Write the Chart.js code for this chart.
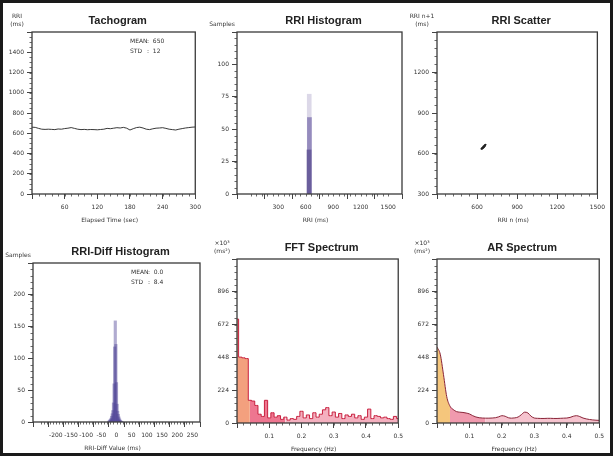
<!DOCTYPE html>
<html>
<head>
<meta charset="utf-8">
<script src="https://cdn.jsdelivr.net/npm/chart.js@4.4.0/dist/chart.umd.min.js"></script>
<style>
  body { margin:0; background:#fff; width:614px; height:457px; overflow:hidden; position:relative; }
  canvas { position:absolute; }
  #frame { position:absolute; left:0; top:0; width:613px; height:456px; box-sizing:border-box; border:3px solid #1a1a1a; pointer-events:none; }
</style>
</head>
<body>
<div id="frame"></div>
<script>
// tachogram (sec / ms)
const tachoTime = [0, 6, 12, 18, 24, 30, 36, 42, 48, 54, 60, 66, 72, 78, 84, 90, 96, 102, 108, 114, 120, 126, 132, 138, 144, 150, 156, 162, 168, 174, 180, 186, 192, 198, 204, 210, 216, 222, 228, 234, 240, 246, 252, 258, 264, 270, 276, 282, 288, 294, 300];
const tachoRRI = [660, 658, 648, 640, 638, 640, 638, 636, 642, 640, 646, 650, 656, 648, 640, 636, 638, 635, 637, 636, 634, 637, 640, 648, 645, 650, 655, 652, 658, 650, 632, 645, 656, 660, 652, 640, 636, 644, 650, 652, 655, 648, 640, 636, 632, 640, 646, 652, 656, 660, 662];
const tachoStats = [['MEAN', '650'], ['STD', '12']];

// RRI histogram
const rriBins = [638, 640, 636];
const rriCounts = [77, 59, 34];

// RRI scatter
const scatterRRn = [632, 636, 640, 644, 648, 652, 656, 660, 664, 638, 646, 650, 654, 642, 658];
const scatterRRn1 = [636, 634, 644, 640, 652, 648, 660, 656, 666, 642, 650, 646, 658, 638, 662];

// RRI-Diff histogram
const diffBins = [-26, -24, -22, -20, -18, -16, -14, -12, -10, -8, -6, -4, -2, 0, 2, 4, 6, 8, 10, 12, 14, 16, 18];
const diffCounts = [1, 2, 3, 4, 6, 9, 13, 18, 30, 60, 118, 159, 122, 62, 28, 17, 12, 8, 5, 3, 2, 1, 1];
const diffStats = [['MEAN', '0.0'], ['STD', '8.4']];

// spectra (Hz / x10^3 ms^2)
const specFreq = [0.00, 0.01, 0.02, 0.03, 0.04, 0.05, 0.06, 0.07, 0.08, 0.09, 0.10, 0.11, 0.12, 0.13, 0.14, 0.15, 0.16, 0.17, 0.18, 0.19, 0.20, 0.21, 0.22, 0.23, 0.24, 0.25, 0.26, 0.27, 0.28, 0.29, 0.30, 0.31, 0.32, 0.33, 0.34, 0.35, 0.36, 0.37, 0.38, 0.39, 0.40, 0.41, 0.42, 0.43, 0.44, 0.45, 0.46, 0.47, 0.48, 0.49, 0.50];
const fftPower = [710, 450, 445, 440, 155, 150, 120, 60, 45, 155, 35, 70, 40, 50, 25, 40, 20, 30, 25, 45, 80, 35, 55, 30, 70, 40, 60, 90, 105, 50, 75, 40, 65, 30, 55, 45, 60, 35, 50, 25, 40, 95, 30, 50, 45, 35, 40, 30, 25, 45, 30];
const arPower = [519, 470, 330, 180, 115, 92, 78, 74, 72, 68, 62, 50, 41, 36, 34, 33, 33, 34, 36, 42, 50, 46, 36, 33, 35, 41, 57, 74, 69, 46, 34, 32, 31, 31, 32, 32, 31, 31, 32, 33, 34, 38, 46, 50, 44, 34, 28, 24, 21, 19, 18];
const bandEdges = [0, 0.04, 0.15, 0.5];
const arBandColors = ['#f5c67c', '#f09aae', '#f6c4cf'];
const fftBandColors = ['#f3a07e', '#ee7690', '#f4b0bf'];

const FONT = 'DejaVu Sans';
const INK = '#333';

// draws frame, minor ticks and all panel texts
const panelDeco = {
  id: 'panelDeco',
  afterDraw(chart, args, o) {
    const { ctx, chartArea: a, scales: { x, y } } = chart;
    ctx.save();
    ctx.strokeStyle = '#3a3a3a';
    ctx.lineWidth = 1.3;
    ctx.strokeRect(a.left, a.top, a.right - a.left, a.bottom - a.top);

    ctx.lineWidth = 0.8;
    ctx.strokeStyle = '#444';
    ctx.beginPath();
    for (let v = x.min; v <= x.max + 1e-9; v += o.xMinor) {
      const px = Math.round(x.getPixelForValue(v)) + 0.5;
      ctx.moveTo(px, a.bottom); ctx.lineTo(px, a.bottom + 2.5);
    }
    for (let v = y.min; v <= y.max + 1e-9; v += o.yMinor) {
      const py = Math.round(y.getPixelForValue(v)) + 0.5;
      ctx.moveTo(a.left, py); ctx.lineTo(a.left - 2.5, py);
    }
    ctx.stroke();

    ctx.fillStyle = '#222';
    ctx.textAlign = 'center';
    ctx.textBaseline = 'middle';
    ctx.font = 'bold 11px "Liberation Sans"';
    ctx.fillText(o.title, (a.left + a.right) / 2 + 4, a.top - 11);

    ctx.font = '6px ' + FONT;
    ctx.fillStyle = INK;
    ctx.fillText(o.xTitle, (a.left + a.right) / 2 - 4, a.bottom + 26);
    const yl = o.yTitle;
    yl.forEach((s, i) => ctx.fillText(s, a.left - 15, a.top - 8 - (yl.length - 1 - i) * 8));

    if (o.stats) {
      ctx.textAlign = 'left';
      o.stats.forEach((s, i) => {
        const ty = a.top + 9 + i * 10;
        ctx.fillText(s[0], a.left + 98, ty);
        ctx.fillText(':  ' + s[1], a.left + 115, ty);
      });
    }
    ctx.restore();
  }
};

function axis(min, max, step, hideMin, hideMax, isX, fmt) {
  return {
    type: 'linear', min, max,
    afterFit(s) { if (isX) s.height = 34; else s.width = 36; },
    ticks: {
      stepSize: step, autoSkip: false, maxRotation: 0, color: INK,
      padding: isX ? 5 : 3,
      font: { size: 6, family: FONT },
      callback(v, i, t) {
        if ((hideMin && i === 0) || (hideMax && i === t.length - 1)) return '';
        return fmt ? fmt(v) : v;
      }
    },
    grid: { display: true, drawOnChartArea: false, drawTicks: true, tickLength: 5, color: '#444', lineWidth: 1 },
    border: { display: false }
  };
}

function makePanel(box, type, datasets, scaleX, scaleY, deco) {
  const cv = document.createElement('canvas');
  const w = (box.r - box.l) + 36 + 6;
  const h = (box.b - box.t) + 32 + 34;
  cv.width = w; cv.height = h;
  cv.style.left = (box.l - 36) + 'px';
  cv.style.top = (box.t - 32) + 'px';
  cv.style.width = w + 'px';
  cv.style.height = h + 'px';
  document.body.appendChild(cv);
  return new Chart(cv, {
    type,
    data: { datasets },
    options: {
      responsive: false, animation: false, devicePixelRatio: 1,
      layout: { padding: { left: 0, top: 32, right: 6, bottom: 0 } },
      scales: { x: scaleX, y: scaleY },
      plugins: { legend: { display: false }, tooltip: { enabled: false }, panelDeco: deco }
    },
    plugins: [panelDeco]
  });
}

const pts = (xs, ys) => xs.map((v, i) => ({ x: v, y: ys[i] }));
const bandSets = (ys, colors, extra) => colors.map((c, k) => Object.assign({
  type: 'line',
  data: pts(specFreq, ys).filter(p => p.x >= bandEdges[k] - 1e-9 && p.x <= bandEdges[k + 1] + 1e-9),
  backgroundColor: c, borderWidth: 0, pointRadius: 0, fill: 'origin', order: 2
}, extra));

// 1 Tachogram
makePanel({ l: 32, t: 32, r: 200, b: 194 }, 'line',
  [{ data: pts(tachoTime, tachoRRI), borderColor: '#222', borderWidth: 0.9, pointRadius: 0, tension: 0 }],
  axis(0, 300, 60, true, false, true),
  axis(0, 1600, 200, false, true, false),
  { title: 'Tachogram', xTitle: 'Elapsed Time (sec)', yTitle: ['RRI', '(ms)'], stats: tachoStats, xMinor: 12, yMinor: 50 });

// 2 RRI Histogram
makePanel({ l: 237, t: 32, r: 402, b: 194 }, 'bar',
  [{ data: pts(rriBins, rriCounts), backgroundColor: ['#dcd8e8', '#958bbd', '#6a5e9c'], borderWidth: 0, barThickness: 4 }],
  axis(0, 1500, 300, true, false, true),
  axis(0, 125, 25, false, true, false),
  { title: 'RRI Histogram', xTitle: 'RRI (ms)', yTitle: ['Samples'], xMinor: 60, yMinor: 5 });

// 3 RRI Scatter
makePanel({ l: 437, t: 32, r: 604, b: 194 }, 'scatter',
  [{ data: pts(scatterRRn, scatterRRn1), backgroundColor: '#222', borderWidth: 0, pointRadius: 0.9 }],
  axis(300, 1500, 300, true, false, true),
  axis(300, 1500, 300, false, true, false),
  { title: 'RRI Scatter', xTitle: 'RRI n (ms)', yTitle: ['RRI n+1', '(ms)'], xMinor: 60, yMinor: 60 });

// 4 RRI-Diff Histogram
makePanel({ l: 33, t: 263, r: 200, b: 422 }, 'bar',
  [{ data: pts(diffBins, diffCounts), backgroundColor: 'rgba(80,68,150,0.45)', borderWidth: 0, barThickness: 2.5 }],
  axis(-250, 250, 50, true, false, true),
  axis(0, 250, 50, false, true, false),
  { title: 'RRI-Diff Histogram', xTitle: 'RRI-Diff Value (ms)', yTitle: ['Samples'], stats: diffStats, xMinor: 10, yMinor: 10 });

// 5 FFT Spectrum
makePanel({ l: 237, t: 259, r: 402, b: 423 }, 'line',
  [{ data: pts(specFreq, fftPower), borderColor: '#c8203f', borderWidth: 1, pointRadius: 0, stepped: 'middle', fill: false, order: 1 }]
    .concat(bandSets(fftPower, fftBandColors, { stepped: 'middle' })),
  axis(0, 0.5, 0.1, true, false, true, v => v.toFixed(1)),
  axis(0, 1120, 224, false, true, false),
  { title: 'FFT Spectrum', xTitle: 'Frequency (Hz)', yTitle: ['×10³', '(ms²)'], xMinor: 0.02, yMinor: 44.8 });

// 6 AR Spectrum
makePanel({ l: 437, t: 259, r: 603, b: 423 }, 'line',
  [{ data: pts(specFreq, arPower), borderColor: '#8a2438', borderWidth: 1, pointRadius: 0, cubicInterpolationMode: 'monotone', fill: false, order: 1 }]
    .concat(bandSets(arPower, arBandColors, { cubicInterpolationMode: 'monotone' })),
  axis(0, 0.5, 0.1, true, false, true, v => v.toFixed(1)),
  axis(0, 1120, 224, false, true, false),
  { title: 'AR Spectrum', xTitle: 'Frequency (Hz)', yTitle: ['×10³', '(ms²)'], xMinor: 0.02, yMinor: 44.8 });
</script>
</body>
</html>
